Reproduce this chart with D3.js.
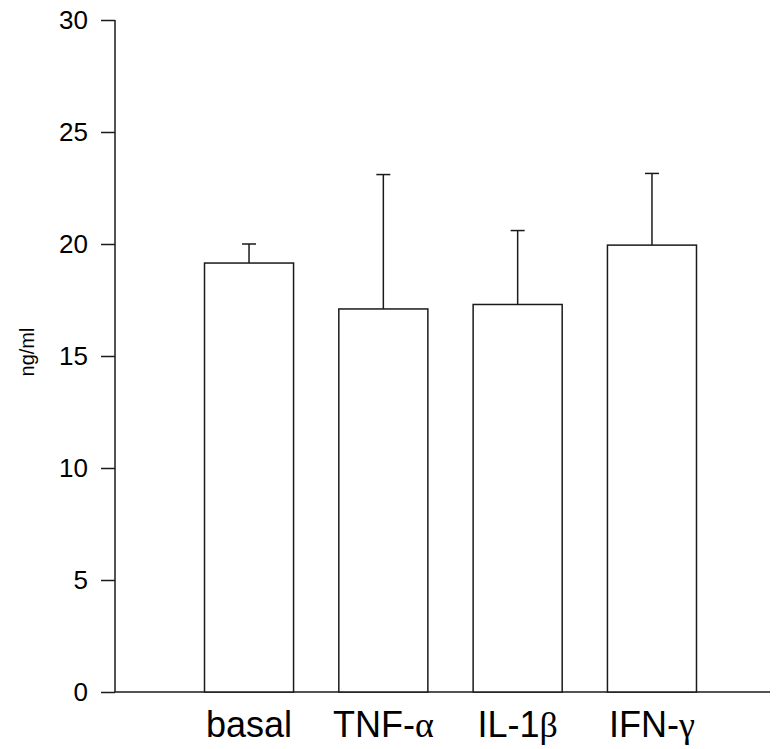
<!DOCTYPE html>
<html><head><meta charset="utf-8">
<script src="https://cdn.jsdelivr.net/npm/d3@7"></script>
<style>body{margin:0;background:#fff}svg{display:block}</style>
</head><body>
<script>
const categories = ["basal", "TNF-", "IL-1", "IFN-"];
const greek = ["", "\u03B1", "\u03B2", "\u03B3"];
const means = [19.15, 17.1, 17.3, 19.95];
const errTops = [20.0, 23.1, 20.6, 23.15];
const yTicks = [0, 5, 10, 15, 20, 25, 30];
const yLabel = "ng/ml";

const W = 776, H = 749;
const svg = d3.select("body").append("svg").attr("width", W).attr("height", H);
const y = d3.scaleLinear().domain([0, 30]).range([692, 20]);
const x = d3.scaleBand().domain(categories).range([137.35, 763.65]).paddingInner(0.337).paddingOuter(0.5);
const stroke = "#1a1a1a";
const font = "Liberation Sans, Arial, sans-serif";

// y axis
const yAxis = svg.append("g").attr("transform", "translate(115,0)")
  .call(d3.axisLeft(y).tickValues(yTicks).tickSize(14).tickPadding(13).tickFormat(d3.format("d")));
yAxis.select(".domain").attr("stroke", stroke).attr("stroke-width", 1.5).attr("d", `M0,${y(30)}V${y(0)}`);
yAxis.selectAll(".tick line").attr("stroke", stroke).attr("stroke-width", 1.5);
yAxis.selectAll(".tick text").attr("font-family", font).attr("font-size", 26).attr("fill", "#000");

// x axis line
svg.append("line").attr("x1", 115).attr("x2", 770).attr("y1", y(0)).attr("y2", y(0))
  .attr("stroke", stroke).attr("stroke-width", 1.5);

// bars
svg.selectAll("rect.bar").data(categories).join("rect").attr("class", "bar")
  .attr("x", d => x(d)).attr("width", x.bandwidth())
  .attr("y", (d, i) => y(means[i])).attr("height", (d, i) => y(0) - y(means[i]))
  .attr("fill", "#fff").attr("stroke", stroke).attr("stroke-width", 1.5);

// error bars
const cap = 7;
categories.forEach((d, i) => {
  const cx = x(d) + x.bandwidth() / 2;
  svg.append("line").attr("x1", cx).attr("x2", cx).attr("y1", y(means[i])).attr("y2", y(errTops[i]))
    .attr("stroke", stroke).attr("stroke-width", 1.5);
  svg.append("line").attr("x1", cx - cap).attr("x2", cx + cap).attr("y1", y(errTops[i])).attr("y2", y(errTops[i]))
    .attr("stroke", stroke).attr("stroke-width", 1.5);
});

// category labels
categories.forEach((d, i) => {
  const cx = x(d) + x.bandwidth() / 2;
  const t = svg.append("text")
    .attr("x", cx).attr("y", 737)
    .attr("text-anchor", "middle").attr("font-family", font).attr("font-size", 36).attr("fill", "#000");
  t.append("tspan").text(d);
  if (greek[i]) t.append("tspan").attr("font-family", "Liberation Serif, Times New Roman, serif").text(greek[i]);
});

// y label
svg.append("text").attr("transform", `translate(34,${(y(0) + y(30)) / 2 - 4}) rotate(-90)`)
  .attr("text-anchor", "middle").attr("font-family", font).attr("font-size", 20).attr("fill", "#000").text(yLabel);
</script>
</body></html>
